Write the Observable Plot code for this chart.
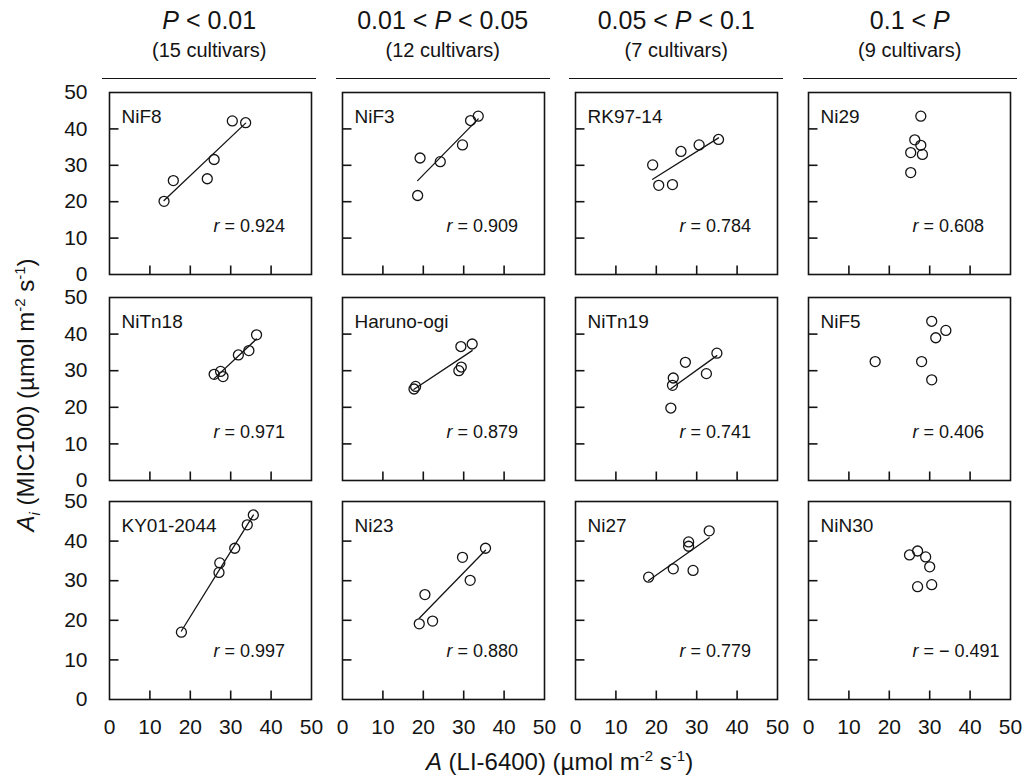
<!DOCTYPE html>
<html>
<head>
<meta charset="utf-8">
<script src="https://cdn.jsdelivr.net/npm/d3@7"></script>
<script src="https://cdn.jsdelivr.net/npm/@observablehq/plot@0.6"></script>
<style>
  body { margin: 0; background: #fff; }
  #root { position: relative; width: 1029px; height: 778px; overflow: hidden; background: #fff;
          font-family: "Liberation Sans", Arial, sans-serif; color: #141414; }
  .hdr { position: absolute; text-align: center; }
  .hdr .l1 { font-size: 25px; line-height: 28px; }
  .hdr .l2 { font-size: 20px; line-height: 24px; margin-top: 4px; }
  .hdr .rule { position: absolute; left: 0; right: 0; top: 72px; border-top: 1.6px solid #141414; }
  .row { position: absolute; left: 0; top: 0; }
  .ytitle { position: absolute; font-size: 24px; white-space: nowrap; transform: translate(-50%, -50%) rotate(-90deg); }
  .xtitle { position: absolute; font-size: 24px; white-space: nowrap; transform: translate(-50%, -50%); }
  sup, sub { font-size: 15px; line-height: 0; }
</style>
</head>
<body>
<div id="root"></div>
<script>
// ---- headers ----
const groupLabels = ["P < 0.01", "0.01 < P < 0.05", "0.05 < P < 0.1", "0.1 < P"];
const groupCounts = ["(15 cultivars)", "(12 cultivars)", "(7 cultivars)", "(9 cultivars)"];
const groupHasFit = [true, true, true, false];

// ---- cultivars (row-major, 4 per row) ----
const cultivars = ["NiF8", "NiF3", "RK97-14", "Ni29",
                   "NiTn18", "Haruno-ogi", "NiTn19", "NiF5",
                   "KY01-2044", "Ni23", "Ni27", "NiN30"];
const rValues = ["0.924", "0.909", "0.784", "0.608",
                 "0.971", "0.879", "0.741", "0.406",
                 "0.997", "0.880", "0.779", "\u2212 0.491"];

// ---- A (LI-6400) and Ai (MIC100), µmol m-2 s-1 ----
const NiF8_A  = [13.5, 15.8, 24.2, 25.9, 30.4, 33.7];
const NiF8_Ai = [20.1, 25.8, 26.3, 31.6, 42.2, 41.7];
const NiF3_A  = [18.6, 19.2, 24.2, 29.7, 31.7, 33.6];
const NiF3_Ai = [21.7, 32.0, 31.0, 35.6, 42.3, 43.5];
const RK9714_A  = [19.1, 20.6, 24.0, 26.1, 30.6, 35.4];
const RK9714_Ai = [30.1, 24.5, 24.7, 33.8, 35.6, 37.1];
const Ni29_A  = [27.8, 26.3, 27.8, 25.3, 28.2, 25.3];
const Ni29_Ai = [43.5, 37.0, 35.5, 33.5, 33.0, 28.0];
const NiTn18_A  = [25.9, 27.5, 28.1, 31.9, 34.5, 36.4];
const NiTn18_Ai = [29.0, 29.8, 28.4, 34.3, 35.5, 39.8];
const Haruno_A  = [17.7, 18.1, 28.8, 29.4, 29.3, 32.1];
const Haruno_Ai = [25.0, 25.7, 30.0, 31.0, 36.6, 37.3];
const NiTn19_A  = [23.6, 24.0, 24.2, 27.2, 32.4, 35.0];
const NiTn19_Ai = [19.8, 26.0, 28.0, 32.3, 29.2, 34.8];
const NiF5_A  = [16.5, 28.0, 30.5, 31.5, 34.0, 30.5];
const NiF5_Ai = [32.5, 32.5, 43.5, 39.0, 41.0, 27.5];
const KY01_A  = [17.8, 27.1, 27.3, 31.0, 34.1, 35.6];
const KY01_Ai = [17.0, 32.1, 34.5, 38.2, 44.1, 46.6];
const Ni23_A  = [19.0, 20.4, 22.3, 29.7, 31.6, 35.4];
const Ni23_Ai = [19.1, 26.5, 19.8, 35.9, 30.1, 38.2];
const Ni27_A  = [18.1, 24.2, 28.0, 28.0, 29.1, 33.1];
const Ni27_Ai = [30.9, 33.0, 39.8, 38.7, 32.6, 42.6];
const NiN30_A  = [25.0, 27.0, 29.0, 30.0, 27.0, 30.5];
const NiN30_Ai = [36.5, 37.5, 36.0, 33.5, 28.5, 29.0];

const seriesA  = [NiF8_A, NiF3_A, RK9714_A, Ni29_A, NiTn18_A, Haruno_A, NiTn19_A, NiF5_A, KY01_A, Ni23_A, Ni27_A, NiN30_A];
const seriesAi = [NiF8_Ai, NiF3_Ai, RK9714_Ai, Ni29_Ai, NiTn18_Ai, Haruno_Ai, NiTn19_Ai, NiF5_Ai, KY01_Ai, Ni23_Ai, Ni27_Ai, NiN30_Ai];

const tickLabels = [0, 10, 20, 30, 40, 50];
const innerTicks = [10, 20, 30, 40];

// ---- build tables ----
const panels = cultivars.map((name, i) => ({ name, r: rValues[i], row: Math.floor(i / 4), col: i % 4 }));
const points = panels.flatMap((p, i) => seriesA[i].map((a, j) => ({ A: a, Ai: seriesAi[i][j], row: p.row, col: p.col })));
const tickRows = panels.flatMap(p => innerTicks.map(v => ({ v, row: p.row, col: p.col })));

// ---- layout ----
const W = 1029, ML = 108, MR = 18, PAD = 0.133, TICK = 9;
const step = (W - ML - MR) / (4 - PAD);
const bw = step * (1 - PAD);
const rowsLayout = [{ top: 92, h: 182, mb: 14 }, { top: 297, h: 183, mb: 14 }, { top: 501, h: 198, mb: 48 }];
const root = document.getElementById("root");
const ink = "#141414";
const font = "'Liberation Sans', Arial, sans-serif";

rowsLayout.forEach((L, r) => {
  const rowPts = points.filter(d => d.row === r);
  const rowPanels = panels.filter(d => d.row === r);
  const rowTicks = tickRows.filter(d => d.row === r);
  const xTickLen = TICK / bw * 50;     // tick length converted to data units
  const yTickLen = TICK / L.h * 50;
  const marks = [
    Plot.frame({ stroke: ink, strokeWidth: 1.6 }),
    // inward ticks on the left and bottom edge of every panel
    Plot.link(rowTicks, { fx: "col", x1: () => 0, x2: () => xTickLen, y1: "v", y2: "v", stroke: ink, strokeWidth: 1.6 }),
    Plot.link(rowTicks, { fx: "col", x1: "v", x2: "v", y1: () => 0, y2: () => yTickLen, stroke: ink, strokeWidth: 1.6 }),
    Plot.axisY({ ticks: tickLabels, tickSize: 0, tickPadding: 22, fontSize: 21, stroke: "none", fill: ink, label: null }),
    Plot.linearRegressionY(rowPts.filter(d => groupHasFit[d.col]), { x: "A", y: "Ai", fx: "col", ci: 0, stroke: ink, strokeWidth: 1.3 }),
    Plot.dot(rowPts, { x: "A", y: "Ai", fx: "col", r: 5, stroke: ink, strokeWidth: 1.3, fill: "none" }),
    Plot.text(rowPanels, { fx: "col", text: "name", frameAnchor: "top-left", dx: 12, dy: 24, textAnchor: "start", lineAnchor: "middle", fontSize: 19, fill: ink }),
    Plot.text(rowPanels, { fx: "col", text: () => "r", frameAnchor: "bottom-left", dx: 104, dy: -48, textAnchor: "start", lineAnchor: "middle", fontSize: 18, fontStyle: "italic", fill: ink }),
    Plot.text(rowPanels, { fx: "col", text: d => " = " + d.r, frameAnchor: "bottom-left", dx: 110, dy: -48, textAnchor: "start", lineAnchor: "middle", fontSize: 18, fill: ink })
  ];
  if (r === 2) {
    marks.push(Plot.axisX({ ticks: tickLabels, tickSize: 0, tickPadding: 20, fontSize: 21, stroke: "none", fill: ink, label: null }));
  }
  const svg = Plot.plot({
    width: W,
    height: 10 + L.h + L.mb,
    marginTop: 10, marginBottom: L.mb, marginLeft: ML, marginRight: MR,
    style: { background: "transparent", overflow: "visible", fontFamily: font, color: ink },
    x: { domain: [0, 50], axis: r === 2 ? undefined : null },
    y: { domain: [0, 50] },
    fx: { domain: [0, 1, 2, 3], axis: null, paddingInner: PAD, paddingOuter: 0 },
    marks
  });
  svg.classList.add("row");
  svg.style.top = (L.top - 10) + "px";
  svg.style.position = "absolute";
  root.appendChild(svg);
});

// ---- column headers ----
groupLabels.forEach((g, c) => {
  const d = document.createElement("div");
  d.className = "hdr";
  const left = ML + c * step;
  d.style.left = (left - 6) + "px";
  d.style.width = (bw + 12) + "px";
  d.style.top = "6px";
  d.style.height = "80px";
  const l1 = document.createElement("div");
  l1.className = "l1";
  l1.innerHTML = g.replace("P", "<i>P</i>");
  const l2 = document.createElement("div");
  l2.className = "l2";
  l2.textContent = groupCounts[c];
  const rule = document.createElement("div");
  rule.className = "rule";
  d.appendChild(l1); d.appendChild(l2); d.appendChild(rule);
  root.appendChild(d);
});

// ---- axis titles ----
const yt = document.createElement("div");
yt.className = "ytitle";
yt.style.left = "26px"; yt.style.top = "395px";
yt.innerHTML = "<i>A</i><sub><i>i</i></sub> (MIC100) (µmol m<sup>-2</sup> s<sup>-1</sup>)";
root.appendChild(yt);
const xt = document.createElement("div");
xt.className = "xtitle";
xt.style.left = (ML + (W - ML - MR) / 2) + "px"; xt.style.top = "762px";
xt.innerHTML = "<i>A</i> (LI-6400) (µmol m<sup>-2</sup> s<sup>-1</sup>)";
root.appendChild(xt);
</script>
</body>
</html>
